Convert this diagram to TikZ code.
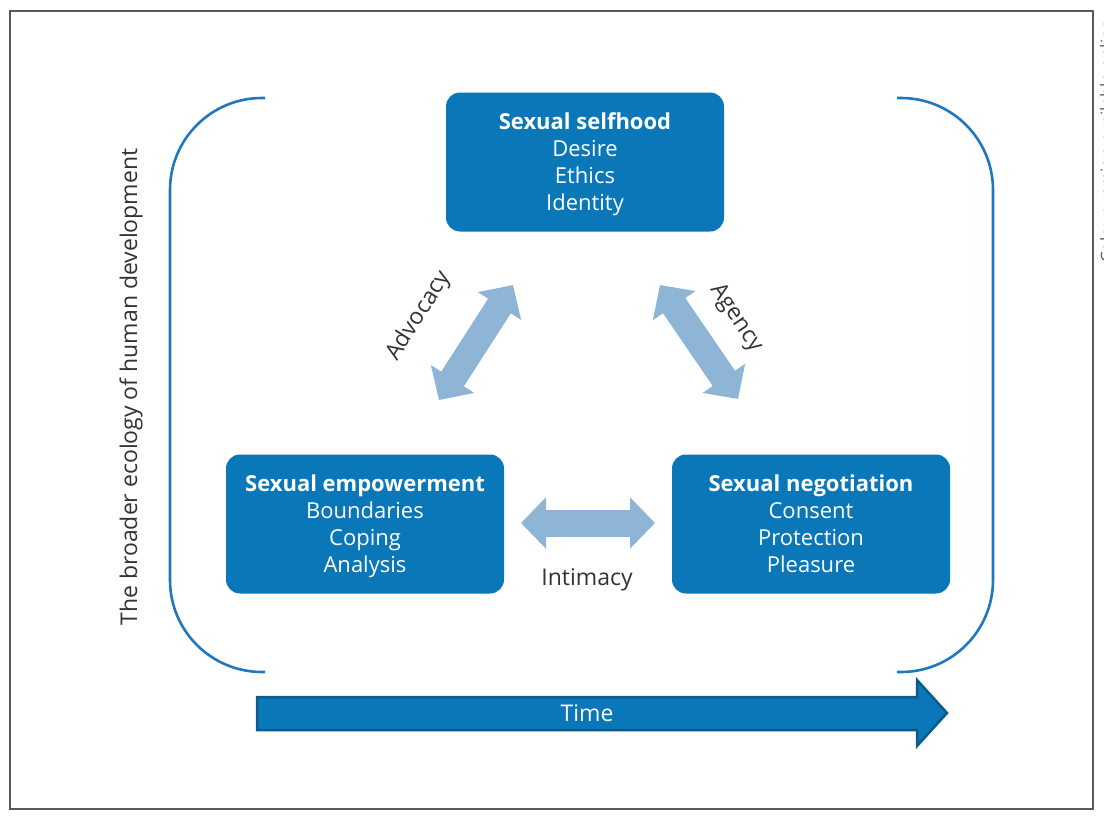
\documentclass[tikz,border=0pt]{standalone}
\usepackage{fontspec}
\setmainfont{Open Sans}
\usetikzlibrary{arrows.meta}
\definecolor{boxblue}{HTML}{0A77B8}
\definecolor{lightblue}{HTML}{8EB4D6}
\definecolor{bracketblue}{HTML}{1F78BE}
\definecolor{darkblue}{HTML}{0B5A8A}
\definecolor{framegray}{HTML}{5A5A5A}
\definecolor{labelgray}{HTML}{333333}
\newcommand{\topstrut}{\rule{0pt}{25pt}}
\tikzset{
  topic/.style={rounded corners=14pt, fill=boxblue, text=white, minimum width=278pt,
    minimum height=139pt, align=center, inner sep=0pt,
    font=\fontsize{22}{27}\selectfont},
  link/.style={draw=lightblue, line width=27pt,
    {Triangle[width=50pt,length=25pt]}-{Triangle[width=50pt,length=25pt]}},
  bracket/.style={draw=bracketblue, line width=2.6pt, rounded corners=92pt},
  lbl/.style={text=labelgray, font=\fontsize{23}{27}\selectfont, inner sep=0pt}
}
\begin{document}
\begin{tikzpicture}[x=1pt,y=-1pt]
\useasboundingbox (0,0) rectangle (1104,819);
\fill[white] (0,0) rectangle (1104,819);
% frame
\draw[framegray, line width=1.8pt] (10,11) rectangle (1093,809);
% side note (cut off at the page edge)
\node[rotate=90, anchor=base west, text=framegray, font=\fontsize{17}{17}\selectfont, inner sep=0pt]
  (note) at (1113,263) {Colour version available online};
% brackets
\draw[bracket] (265,98) -- (170,98) -- (170,672) -- (265,672);
\draw[bracket] (897,98) -- (993,98) -- (993,672) -- (897,672);
% vertical label
\node[lbl, rotate=90] (eco) at (131,387) {The broader ecology of human development};
% boxes
\node[topic] (self) at (585,162) {\topstrut\textbf{Sexual selfhood}\\Desire\\Ethics\\Identity\strut};
\node[topic] (emp) at (365,524) {\topstrut\textbf{Sexual empowerment}\\Boundaries\\Coping\\Analysis\strut};
\node[topic] (neg) at (811,524) {\topstrut\textbf{Sexual negotiation}\\Consent\\Protection\\Pleasure\strut};
% double arrows
\coordinate (adv1) at (439,400);
\coordinate (adv2) at (513,285);
\coordinate (ag1) at (660,285);
\coordinate (ag2) at (738,399);
\coordinate (in1) at (521,523);
\coordinate (in2) at (655,523);
\path[link] (adv1) -- (adv2);
\path[link] (ag1) -- (ag2);
\path[link] (in1) -- (in2);
\node[lbl, rotate=57.5] (advl) at (419,316) {Advocacy};
\node[lbl, rotate=-56] (agl) at (736,318) {Agency};
\node[lbl] (intl) at (587,580) {Intimacy};
% time arrow
\coordinate (t0) at (257,697);
\draw[fill=boxblue, draw=darkblue, line width=2.5pt, line join=miter]
  (t0) -- (917,697) -- (917,680) -- (947,713) -- (917,746) -- (917,730) -- (257,730) -- cycle;
\node[text=white, font=\fontsize{23}{27}\selectfont] (time) at (587,713) {Time};
\end{tikzpicture}
\end{document}
